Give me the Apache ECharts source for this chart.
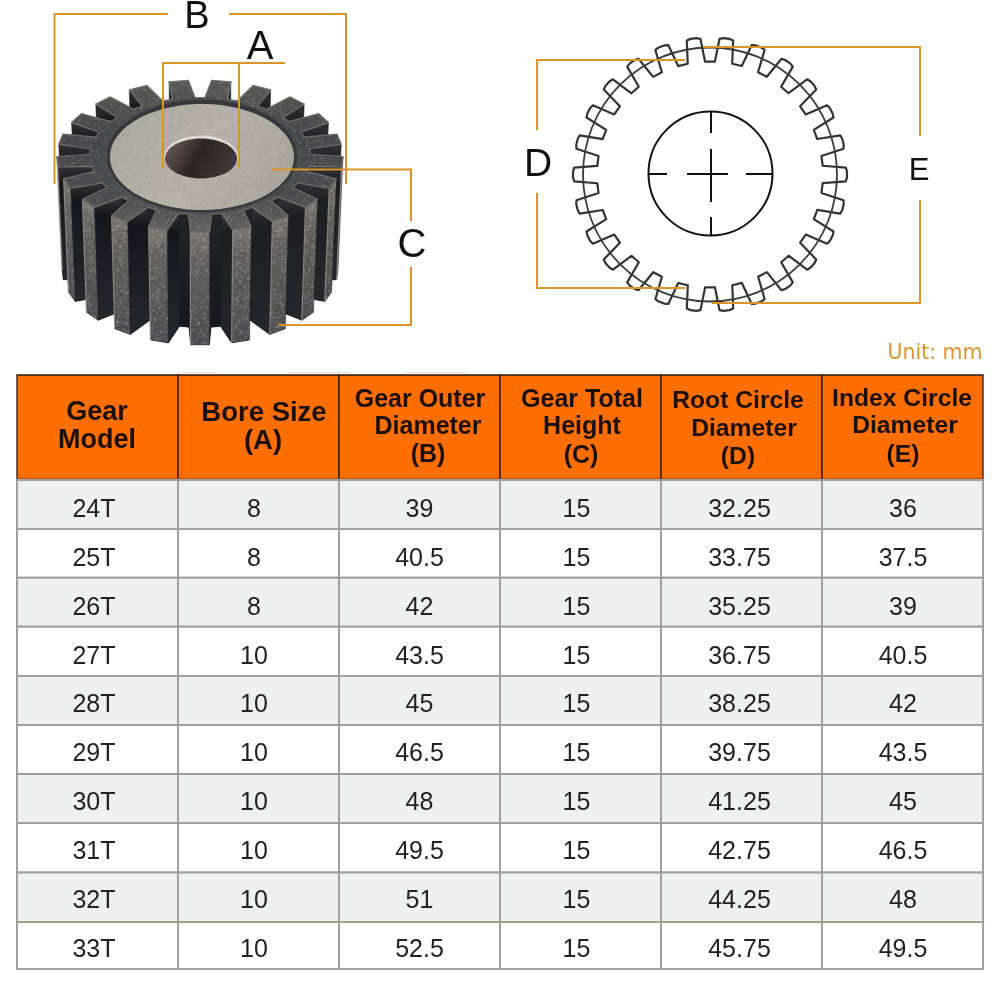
<!DOCTYPE html>
<html lang="en">
<head>
<meta charset="utf-8">
<title>Gear size table</title>
<script src="https://cdn.jsdelivr.net/npm/echarts@6/dist/echarts.min.js"></script>
<style>
html, body { margin: 0; padding: 0; background: #fff; }
#main { width: 1000px; height: 1000px; }
</style>
</head>
<body>
<div id="main"></div>
<script>
// table contents
var headers = [
    ['Gear', 'Model'],
    ['Bore Size', '(A)'],
    ['Gear Outer', 'Diameter', '(B)'],
    ['Gear Total', 'Height', '(C)'],
    ['Root Circle', 'Diameter', '(D)'],
    ['Index Circle', 'Diameter', '(E)']
];
var models = ['24T', '25T', '26T', '27T', '28T', '29T', '30T', '31T', '32T', '33T'];
var boreSize = [8, 8, 8, 10, 10, 10, 10, 10, 10, 10];
var outerDiameter = [39, 40.5, 42, 43.5, 45, 46.5, 48, 49.5, 51, 52.5];
var totalHeight = [15, 15, 15, 15, 15, 15, 15, 15, 15, 15];
var rootDiameter = [32.25, 33.75, 35.25, 36.75, 38.25, 39.75, 41.25, 42.75, 44.25, 45.75];
var indexDiameter = [36, 37.5, 39, 40.5, 42, 43.5, 45, 46.5, 48, 49.5];
var unitLabel = 'Unit: mm';

var columns = [models, boreSize, outerDiameter, totalHeight, rootDiameter, indexDiameter];

// text nudges, the source table is not quite centred
var bodyDx = [-3.5, -4.5, 0, -4, -2, 0.5];
var bodyDy = 5.5;
var rowEdgeDy = [0, 0, 0, 0, 0.4, 0.5, 0.6, 0.7, 1.3, 1.8, 0];
var headFont = [27, 27.5, 25, 25, 24.7, 24.7];
var headY = [[413, 441], [413, 441], [400, 427, 455], [400, 427, 456], [401, 429, 457], [399, 426, 455]];
var headX = [[97, 97], [264, 263], [420, 428, 428], [582, 582, 581], [738, 744, 738], [902, 905, 903]];

var ORANGE = '#dc9428';
var els = [];

function line(points, color, width, z) {
    els.push({
        type: 'polyline', silent: true, z: z || 0,
        shape: { points: points },
        style: { stroke: color, lineWidth: width, fill: null, lineJoin: 'miter' }
    });
}

function label(text, x, y, font, color) {
    els.push({
        type: 'text', silent: true,
        style: { text: text, x: x, y: y, font: font, fill: color, align: 'center', verticalAlign: 'middle' }
    });
}

function grad(x1, y1, x2, y2, stops) {
    return new echarts.graphic.LinearGradient(x1, y1, x2, y2, stops.map(function (s) {
        return { offset: s[0], color: s[1] };
    }));
}

// speckle for the machined steel, hash based so every run looks the same
function speckle(alpha) {
    var c = document.createElement('canvas');
    c.width = c.height = 96;
    var ctx = c.getContext('2d');
    for (var i = 0; i < 1400; i++) {
        var h1 = Math.sin(i * 12.9898) * 43758.5453;
        var h2 = Math.sin(i * 78.233) * 24634.6345;
        var h3 = Math.sin(i * 37.719) * 9631.177;
        h1 -= Math.floor(h1); h2 -= Math.floor(h2); h3 -= Math.floor(h3);
        ctx.fillStyle = h3 > 0.5 ? 'rgba(255,255,255,' + alpha + ')' : 'rgba(0,0,0,' + alpha + ')';
        ctx.fillRect(h1 * 96, h2 * 96, 1 + h3, 1 + h3);
    }
    return c;
}

function drawSteelGear() {
    var cx = 200, cy = 156, rx = 143, ry = 76, drop = 113, teeth = 21;
    var rootR = 0.77, a1 = 6, a2 = 3.9;
    var step = 360 / teeth;
    var pts = [], kinds = [];

    function at(deg, r) {
        var t = deg * Math.PI / 180;
        return [cx + rx * r * Math.cos(t), cy + ry * r * Math.sin(t)];
    }
    for (var k = 0; k < teeth; k++) {
        var c = -90 + (k + 0.5) * step;
        pts.push(at(c - a1, rootR)); kinds.push('flank');
        pts.push(at(c - a2, 1)); kinds.push('tip');
        pts.push(at(c + a2, 1)); kinds.push('flank');
        pts.push(at(c + a1, rootR)); kinds.push('root');
    }
    function low(p) {
        return [cx + (p[0] - cx) * 0.965, p[1] + drop];
    }

    // side walls, only the ones facing the camera, back to front
    var quads = [];
    pts.forEach(function (p, i) {
        var n = pts[(i + 1) % pts.length];
        if (n[0] - p[0] >= 0) return;
        quads.push({ a: p, b: n, kind: kinds[i], key: Math.max(p[1], n[1]) + (kinds[i] === 'tip' ? 1 : 0) });
    });
    quads.sort(function (q, w) { return q.key - w.key; });

    els.push({
        type: 'polygon', silent: true,
        shape: { points: pts.map(low) },
        style: { fill: '#26272b' }
    });
    var tipSpeckle = speckle(0.14);
    quads.forEach(function (q) {
        var poly = [q.a, q.b, low(q.b), low(q.a)];
        var fill;
        if (q.kind === 'tip') {
            fill = grad(0, 0, 0, 1, [[0, '#7d7a73'], [0.25, '#63625e'], [1, '#4f4f52']]);
        } else if (q.kind === 'root') {
            fill = grad(0, 0, 0, 1, [[0, '#232428'], [1, '#17181d']]);
        } else {
            var facing = q.a[0] < cx ? '#15161b' : '#1d1e22';
            fill = grad(0, 0, 0, 1, [[0, '#343437'], [0.15, facing], [1, '#26272c']]);
        }
        els.push({
            type: 'polygon', silent: true,
            shape: { points: poly },
            style: { fill: fill, stroke: '#1d1e22', lineWidth: 0.5 }
        });
        if (q.kind === 'tip') {
            els.push({
                type: 'polygon', silent: true,
                shape: { points: poly },
                style: { fill: { image: tipSpeckle, repeat: 'repeat' } }
            });
            // worn edge of the tooth
            line([q.b, low(q.b)], 'rgba(165,162,152,0.75)', 1.2);
        }
    });

    // top face with the teeth
    els.push({
        type: 'polygon', silent: true,
        shape: { points: pts },
        style: {
            fill: grad(0, 0, 0, 1, [[0, '#5a5954'], [0.35, '#48494c'], [0.75, '#4b4c4e'], [1, '#626260']]),
            stroke: '#6f6e69', lineWidth: 1.2, lineJoin: 'round'
        }
    });
    els.push({
        type: 'polygon', silent: true,
        shape: { points: pts },
        style: { fill: { image: speckle(0.08), repeat: 'repeat' } }
    });

    // turned recess, disc and bore
    els.push({
        type: 'ellipse', silent: true,
        shape: { cx: 202, cy: 156, rx: 96, ry: 57 },
        style: { fill: '#37383b', stroke: '#4d4e50', lineWidth: 1.5 }
    });
    els.push({
        type: 'ellipse', silent: true,
        shape: { cx: 202, cy: 157, rx: 92, ry: 53 },
        style: { fill: grad(0, 0, 1, 1, [[0, '#aaa79d'], [0.5, '#b6b2a7'], [1, '#a6a297']]) }
    });
    els.push({
        type: 'ellipse', silent: true,
        shape: { cx: 202, cy: 157, rx: 92, ry: 53 },
        style: { fill: { image: speckle(0.05), repeat: 'repeat' } }
    });
    els.push({
        type: 'ellipse', silent: true,
        shape: { cx: 201, cy: 157, rx: 37, ry: 21.5 },
        style: { fill: '#dedbd2' }
    });
    els.push({
        type: 'ellipse', silent: true,
        shape: { cx: 201, cy: 158.5, rx: 36, ry: 20 },
        style: { fill: grad(0, 0, 1, 1, [[0, '#6d665e'], [0.45, '#2b2622'], [1, '#453f39']]) }
    });
}

function drawLineGear() {
    var cx = 710, cy = 174.5, teeth = 26, tipR = 136, rootR = 113;
    var step = 360 / teeth, pts = [];
    for (var k = 0; k < teeth; k++) {
        var c = -90 + (k + 0.5) * step;
        [[-2.9, tipR], [-1.2, tipR + 1], [1.2, tipR + 1], [2.9, tipR], [4.4, rootR], [9.4, rootR]].forEach(function (o) {
            var t = (c + o[0]) * Math.PI / 180;
            pts.push([cx + o[1] * Math.cos(t), cy + o[1] * Math.sin(t)]);
        });
    }
    els.push({
        type: 'polygon', silent: true,
        shape: { points: pts },
        style: { fill: null, stroke: '#333', lineWidth: 2.2, lineJoin: 'round' }
    });
    // pitch circle
    els.push({
        type: 'circle', silent: true,
        shape: { cx: cx, cy: cy, r: 127 },
        style: { fill: null, stroke: '#3c3c3c', lineWidth: 1.8 }
    });
    // bore with broken centre lines
    els.push({
        type: 'circle', silent: true,
        shape: { cx: 710.5, cy: 173.5, r: 62 },
        style: { fill: null, stroke: '#111', lineWidth: 2 }
    });
    [[[648, 174], [667, 174]], [[687, 174], [728, 174]], [[746, 174], [772, 174]],
     [[711, 112], [711, 133]], [[711, 149], [711, 202]], [[711, 217], [711, 235]]].forEach(function (seg) {
        line(seg, '#111', 2);
    });
}

function drawCallouts() {
    // B
    line([[168, 14], [54.5, 14], [54.5, 184]], ORANGE, 2);
    line([[229, 14], [346, 14], [346, 184]], ORANGE, 2);
    // A
    line([[163, 168], [163, 63], [285, 63]], ORANGE, 2);
    line([[239, 63], [239, 168]], ORANGE, 2);
    // C
    line([[272, 169.5], [411, 169.5], [411, 221]], ORANGE, 2);
    line([[411, 267], [411, 325], [278, 325]], ORANGE, 2);
    // D
    line([[685, 60], [537, 60], [537, 130]], ORANGE, 2);
    line([[537, 193], [537, 288], [685, 288]], ORANGE, 2);
    // E
    line([[703, 47], [920, 47], [920, 136]], ORANGE, 2);
    line([[920, 200], [920, 303], [712, 303]], ORANGE, 2);

    label('B', 197, 18, '38px "Liberation Sans"', '#111');
    label('A', 260, 48, '40px "Liberation Sans"', '#111');
    label('C', 412, 246, '40px "Liberation Sans"', '#111');
    label('D', 538, 165, '39px "Liberation Sans"', '#111');
    label('E', 919, 171, '31px "Liberation Sans"', '#111');
    label(unitLabel, 935, 354, '20.5px "DejaVu Sans"', '#d9962f');
}

drawSteelGear();
drawLineGear();
drawCallouts();
// the tan seam above the last row
line([[18, 922], [982, 922]], '#b39c84', 1.6, 10);
// faint smudges just above the header
line([[178, 372.5], [216, 372.5]], '#e3ded8', 1);
line([[288, 372.5], [350, 372.5]], '#e3ded8', 1);
line([[404, 372.5], [466, 372.5]], '#e3ded8', 1);

var headCells = headers.map(function (h, i) { return [i, 0]; });
var bodyCells = [];
columns.forEach(function (col, c) {
    col.forEach(function (v, r) {
        bodyCells.push([c, r]);
    });
});

var option = {
    animation: false,
    backgroundColor: '#fff',
    grid: [
        { left: 17, top: 375, width: 966, height: 104.5 },
        { left: 17, top: 480, width: 966, height: 489 }
    ],
    xAxis: [
        { type: 'category', gridIndex: 0, show: false, data: [0, 1, 2, 3, 4, 5] },
        { type: 'category', gridIndex: 1, show: false, data: [0, 1, 2, 3, 4, 5] }
    ],
    yAxis: [
        { type: 'category', gridIndex: 0, show: false, data: ['head'] },
        { type: 'category', gridIndex: 1, show: false, inverse: true, data: models }
    ],
    graphic: { elements: els },
    series: [{
        type: 'custom',
        xAxisIndex: 0,
        yAxisIndex: 0,
        silent: true,
        clip: false,
        data: headCells,
        renderItem: function (params, api) {
            var c = api.value(0);
            var p = api.coord([c, 0]);
            var s = api.size([1, 1]);
            var kids = [{
                type: 'rect',
                shape: { x: p[0] - s[0] / 2, y: p[1] - s[1] / 2, width: s[0], height: s[1] },
                style: { fill: '#ff6e00', stroke: '#2a1a10', lineWidth: 1.3 }
            }];
            headers[c].forEach(function (txt, i) {
                kids.push({
                    type: 'text',
                    style: {
                        text: txt, x: headX[c][i], y: headY[c][i],
                        font: 'bold ' + headFont[c] + 'px "Liberation Sans"',
                        fill: '#1c0f05', align: 'center', verticalAlign: 'middle'
                    }
                });
            });
            return { type: 'group', children: kids };
        }
    }, {
        type: 'custom',
        xAxisIndex: 1,
        yAxisIndex: 1,
        silent: true,
        clip: false,
        data: bodyCells,
        renderItem: function (params, api) {
            var c = api.value(0), r = api.value(1);
            var p = api.coord([c, r]);
            var s = api.size([1, 1]);
            var top = p[1] - s[1] / 2 + rowEdgeDy[r];
            var bottom = p[1] + s[1] / 2 + rowEdgeDy[r + 1];
            return {
                type: 'group',
                children: [{
                    type: 'rect',
                    shape: { x: p[0] - s[0] / 2, y: top, width: s[0], height: bottom - top },
                    style: { fill: r % 2 === 0 ? '#eff0f0' : '#fff', stroke: '#a0a0a0', lineWidth: 2 }
                }, {
                    type: 'text',
                    style: {
                        text: String(columns[c][r]),
                        x: p[0] + bodyDx[c], y: p[1] + bodyDy,
                        font: '25px "Liberation Sans"',
                        fill: '#222', align: 'center', verticalAlign: 'middle'
                    }
                }]
            };
        }
    }]
};

var myChart = echarts.init(document.getElementById('main'));
myChart.setOption(option);
</script>
</body>
</html>
